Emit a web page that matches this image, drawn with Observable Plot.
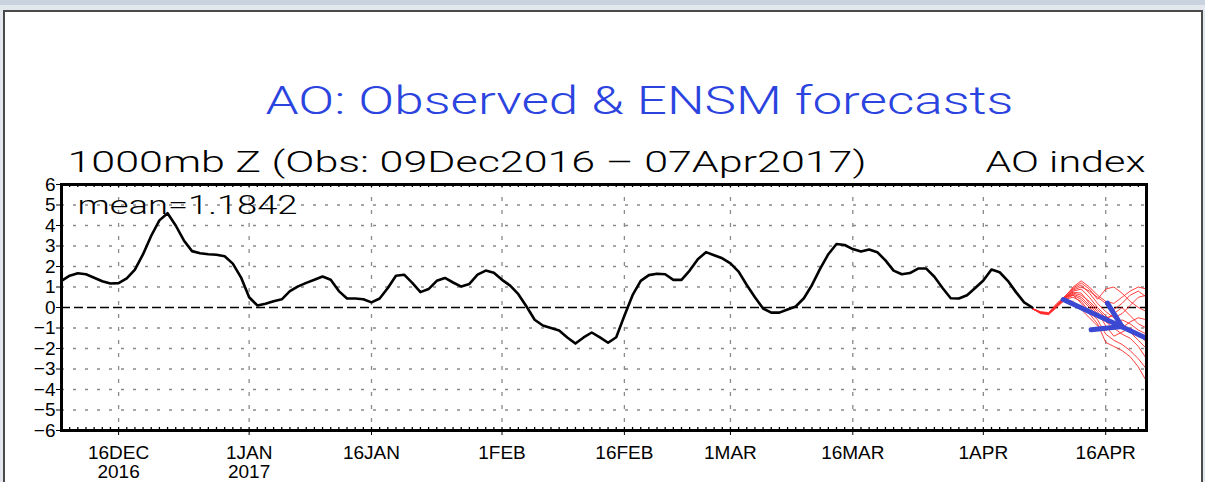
<!DOCTYPE html>
<html><head><meta charset="utf-8">
<script src="https://cdn.jsdelivr.net/npm/d3@7"></script>
<script src="https://cdn.jsdelivr.net/npm/@observablehq/plot@0.6"></script>
<style>
body{margin:0;background:#fff;}
#wrap{position:relative;width:1205px;height:482px;background:#e3e8ee;overflow:hidden;}
#band{position:absolute;left:0;top:0;width:1205px;height:5px;background:#c9d3e0;}
#box{position:absolute;left:3px;top:10px;width:1196px;height:480px;background:#fff;border:2px solid #4a4a4a;border-bottom:none;}
#chart{position:absolute;left:0;top:0;}
</style></head><body>
<div id="wrap"><div id="band"></div><div id="box"></div><div id="chart"></div></div>
<script>
// ---- data ----
const titleText = "AO: Observed & ENSM forecasts";
const subtitleText = "1000mb Z (Obs: 09Dec2016 \u2013 07Apr2017)";
const indexText = "AO index";
const meanText = "mean=1.1842";

const obsStart = "2016-12-09";
// daily observed AO index, 09Dec2016 .. 07Apr2017
const obsValues = [
  1.30,1.55,1.67,1.62,1.45,1.28,1.17,1.19,1.42,1.85,
  2.60,3.50,4.25,4.60,4.00,3.27,2.75,2.65,2.60,2.57,
  2.50,2.14,1.47,0.50,0.10,0.18,0.30,0.40,0.80,1.03,
  1.20,1.35,1.51,1.35,0.80,0.44,0.44,0.40,0.25,0.44,
  0.95,1.55,1.60,1.20,0.75,0.90,1.30,1.44,1.22,1.02,
  1.15,1.60,1.80,1.70,1.35,1.07,0.65,0.05,-0.60,-0.88,
  -1.00,-1.12,-1.46,-1.76,-1.46,-1.22,-1.46,-1.72,-1.45,-0.40,
  0.60,1.30,1.58,1.65,1.62,1.35,1.35,1.80,2.35,2.70,
  2.55,2.40,2.15,1.75,1.10,0.50,-0.05,-0.25,-0.25,-0.10,
  0.05,0.45,1.10,1.90,2.60,3.10,3.05,2.85,2.73,2.83,
  2.70,2.30,1.80,1.62,1.68,1.90,1.90,1.50,0.95,0.45,
  0.44,0.60,0.95,1.32,1.85,1.72,1.30,0.75,0.25,0.00
];

const ensStart = "2017-04-07";
// ENSM members, daily 07Apr .. 21Apr 2017
const ensMembers = [
  [-0.05,-0.25,-0.30,0.10,0.50,1.00,1.30,1.00,0.60,0.30,0.20,0.50,0.80,1.00,0.90],
  [-0.05,-0.20,-0.25,0.20,0.55,0.90,1.10,0.70,0.20,-0.20,-0.50,-0.30,0.10,0.50,0.60],
  [-0.05,-0.30,-0.35,0.00,0.40,0.50,0.30,-0.20,-0.60,-1.30,-1.60,-1.80,-2.10,-2.50,-3.00],
  [-0.05,-0.25,-0.30,0.10,0.45,0.70,0.60,0.30,-0.10,-0.50,-0.40,-0.80,-1.20,-1.60,-2.00],
  [-0.05,-0.25,-0.28,0.15,0.50,0.60,0.20,-0.30,-0.80,-1.70,-1.90,-2.10,-2.40,-2.90,-3.60],
  [-0.05,-0.22,-0.30,0.05,0.35,0.30,-0.10,-0.50,-0.90,-1.10,-0.90,-0.60,-0.80,-1.10,-1.30],
  [-0.05,-0.25,-0.30,0.10,0.45,0.80,0.90,0.50,0.00,-0.40,-0.80,-1.00,-0.70,-0.50,-0.60],
  [-0.05,-0.27,-0.32,0.10,0.50,0.65,0.50,0.10,-0.30,-0.70,-1.00,-1.30,-1.50,-1.90,-2.50],
  [-0.05,-0.25,-0.30,0.12,0.55,0.95,1.20,0.90,0.40,0.90,1.00,0.70,0.30,0.00,-0.20],
  [-0.05,-0.23,-0.30,0.08,0.40,0.60,0.40,0.00,-0.40,-0.60,-0.30,0.00,-0.40,-0.80,-1.00],
  [-0.05,-0.25,-0.30,0.10,0.50,0.75,0.70,0.20,-0.20,-0.90,-1.40,-1.20,-1.00,-1.30,-1.70],
  [-0.05,-0.25,-0.30,0.10,0.45,0.85,1.00,0.80,0.50,0.20,-0.10,0.20,0.60,0.80,0.50]
];

// hand-drawn blue arrow (time, value)
const arrowShaft = [["2017-04-10T19:00Z", 0.39], ["2017-04-20T19:00Z", -1.46]];
const arrowHeadA = [["2017-04-16T05:00Z", 0.21], ["2017-04-18T00:00Z", -0.93]];
const arrowHeadB = [["2017-04-14T05:00Z", -1.09], ["2017-04-18T00:00Z", -0.93]];

const xDomain = ["2016-12-09", "2017-04-21"];
const yTicks = [-6,-5,-4,-3,-2,-1,0,1,2,3,4,5,6];
const gridY = [-5,-4,-3,-2,-1,1,2,3,4,5];
const tickDates = ["2016-12-16","2017-01-01","2017-01-16","2017-02-01","2017-02-16","2017-03-01","2017-03-16","2017-04-01","2017-04-16"];
const tickLabels = ["16DEC\n2016","1JAN\n2017","16JAN","1FEB","16FEB","1MAR","16MAR","1APR","16APR"];

// ---- build tables ----
const DAY = 864e5;
const d0 = new Date(obsStart + "T00:00Z").getTime();
const obsRows = obsValues.map((v, i) => ({date: new Date(d0 + i * DAY), value: v}));
const e0 = new Date(ensStart + "T00:00Z").getTime();
const ensRows = ensMembers.flatMap((m, k) => m.map((v, i) => ({date: new Date(e0 + i * DAY), value: v, member: k})));
const arrowRows = [arrowShaft, arrowHeadA, arrowHeadB].flatMap((seg, k) => seg.map(([t, v]) => ({date: new Date(t), value: v, part: k})));
const xd = xDomain.map(s => new Date(s + "T00:00Z"));
const allDays = d3.utcDay.range(xd[0], new Date(xd[1].getTime() + 1));
const tDates = tickDates.map(s => new Date(s + "T00:00Z"));
const labelMap = new Map(tDates.map((d, i) => [+d, tickLabels[i]]));

const lightFont = "Roboto, 'Liberation Sans', sans-serif";

const plot = Plot.plot({
  width: 1205, height: 482,
  marginLeft: 61, marginRight: 59, marginTop: 184, marginBottom: 52,
  style: {background: "transparent", fontFamily: "'Liberation Sans', Arial, sans-serif", fontSize: "19px", color: "black", overflow: "visible"},
  x: {type: "utc", domain: xd, label: null},
  y: {domain: [-6, 6], label: null},
  marks: [
    Plot.ruleY(gridY, {stroke: "#8a8a8a", strokeWidth: 1.3, strokeDasharray: "3,9"}),
    Plot.ruleX(tDates, {stroke: "#8a8a8a", strokeWidth: 1.3, strokeDasharray: "4,9"}),
    Plot.ruleY([0], {stroke: "black", strokeWidth: 1.5, strokeDasharray: "9,4"}),
    Plot.ruleX(allDays, {y1: -6, y2: -5.85, stroke: "black", strokeWidth: 1.3}),
    Plot.ruleX(allDays, {y1: 6, y2: 5.85, stroke: "black", strokeWidth: 1.3}),
    Plot.line(ensRows, {x: "date", y: "value", z: "member", stroke: "#ff2a2a", strokeWidth: 1, strokeOpacity: 0.9}),
    Plot.line(obsRows, {x: "date", y: "value", stroke: "black", strokeWidth: 2.6}),
    Plot.line(arrowRows, {x: "date", y: "value", z: "part", stroke: "#3b49d2", strokeWidth: 5, strokeLinecap: "round"}),
    Plot.frame({stroke: "black", strokeWidth: 3}),
    Plot.axisY({ticks: yTicks, tickSize: 5, tickPadding: 1, label: null,
      tickFormat: d => d < 0 ? "\u2212" + (-d) : String(d)}),
    Plot.axisX({ticks: tDates, tickSize: 5, tickPadding: 10, label: null,
      tickFormat: d => labelMap.get(+d) ?? ""}),
    Plot.text([titleText], {text: d => d, frameAnchor: "top-left", dx: 204, dy: -71, textAnchor: "start", lineAnchor: "bottom",
      fill: "#2b44e0", fontSize: 39, fontFamily: lightFont, fontWeight: 300}),
    Plot.text([subtitleText], {text: d => d, frameAnchor: "top-left", dx: 6, dy: -13, textAnchor: "start", lineAnchor: "bottom",
      fill: "black", fontSize: 30, fontFamily: lightFont, fontWeight: 300}),
    Plot.text([indexText], {text: d => d, frameAnchor: "top-right", dx: -1, dy: -13, textAnchor: "end", lineAnchor: "bottom",
      fill: "black", fontSize: 30, fontFamily: lightFont, fontWeight: 300}),
    Plot.text([meanText], {text: d => d, frameAnchor: "top-left", dx: 16, dy: 29, textAnchor: "start", lineAnchor: "bottom",
      fill: "black", fontSize: 25, fontFamily: lightFont, fontWeight: 300})
  ]
});
document.getElementById("chart").appendChild(plot);

// stretch label texts to the reference widths
const widths = new Map([[titleText, 748], [subtitleText, 799], [indexText, 160], [meanText, 220]]);
plot.querySelectorAll("text").forEach(t => {
  const w = widths.get(t.textContent);
  if (w) { t.setAttribute("textLength", w); t.setAttribute("lengthAdjust", "spacingAndGlyphs"); }
});
</script>
</body></html>
